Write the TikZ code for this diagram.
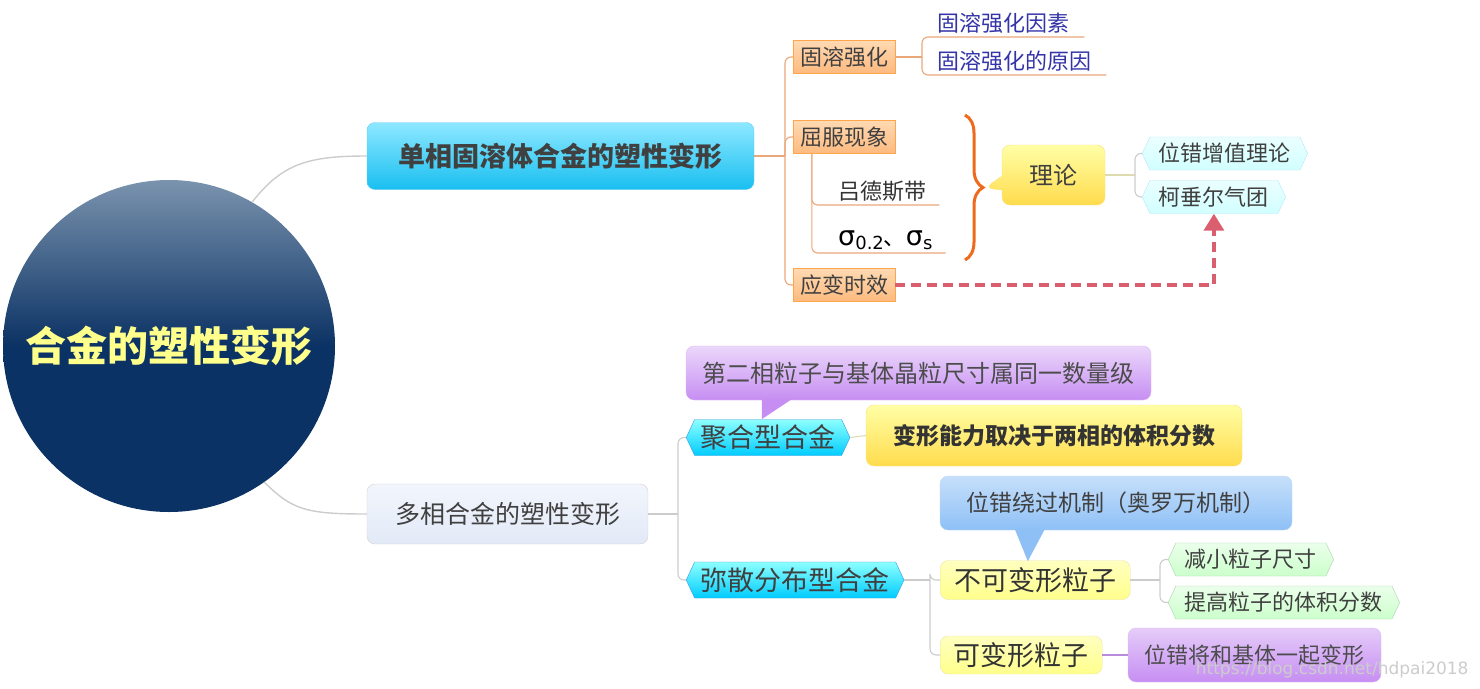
\documentclass[tikz,border=0pt]{standalone}
\usepackage{fontspec}
\setmainfont{Noto Sans CJK SC}
\newfontfamily\dejavu{DejaVu Sans}
\usepackage{tikz}
\usetikzlibrary{positioning,arrows.meta,shapes.symbols,shapes.callouts,decorations.pathreplacing,calc,shadings}
\usepackage{xcolor}
\definecolor{rootnavy}{HTML}{0B3264}
\definecolor{rootsteel}{HTML}{7A93AE}
\definecolor{titleyellow}{HTML}{FFFF8C}
\definecolor{cyantop}{HTML}{8EE8FF}
\definecolor{cyanbot}{HTML}{19BFF0}
\definecolor{orangeline}{HTML}{EAA77A}
\definecolor{orangetop}{HTML}{FFDAB2}
\definecolor{orangebot}{HTML}{FDB97F}
\definecolor{greyline}{HTML}{CCCCCC}
\definecolor{bracecol}{HTML}{F06A1E}
\definecolor{dashred}{HTML}{D95F6E}
\definecolor{ulblue}{HTML}{3434A8}
\definecolor{purpbot}{HTML}{C68EF2}
\definecolor{bluebot}{HTML}{8EC0F6}
\definecolor{multitop}{HTML}{F2F5FC}
\definecolor{multibot}{HTML}{E2EAF7}
\newcommand{\pxfont}[1]{\fontsize{#1}{#1}\selectfont}

\tikzset{
  rootline/.style={draw=greyline, line width=1.4},
  obranch/.style={draw=orangeline, line width=1.1, rounded corners=6},
  gbranch/.style={draw=greyline, line width=1.1, rounded corners=6},
  obox/.style={rectangle, draw=orange!70!white, top color=orangetop, bottom color=orangebot,
    text=black!75, font=\pxfont{22}, minimum width=102, minimum height=33, inner sep=0},
  ulabel/.style={inner xsep=15, inner ysep=3, text=ulblue, font=\pxfont{22}},
  sublabel/.style={inner xsep=13, inner ysep=3, text=black!80, font=\pxfont{22}},
  chex/.style={signal, signal to=east and west, signal pointer angle=130, draw=cyan!30, top color=cyan!8,
    bottom color=cyan!18, text=black!75, font=\pxfont{22}, minimum height=33, inner xsep=9, inner ysep=0},
  bhex/.style={signal, signal to=east and west, signal pointer angle=130, draw=cyan!70!blue!80, top color=cyan!45,
    bottom color=cyan!80!blue, text=black!75, font=\pxfont{27}, minimum height=36, inner xsep=6, inner ysep=0},
  ghex/.style={signal, signal to=east and west, signal pointer angle=130, draw=green!30!gray!50, top color=green!8,
    bottom color=green!20, text=black!75, font=\pxfont{22}, minimum height=33, inner xsep=9, inner ysep=0},
  roundbox/.style={rectangle, rounded corners=8, inner sep=0},
}

\begin{document}
\begin{tikzpicture}[x=1pt,y=-1pt]
\useasboundingbox (0,0) rectangle (1480,688);

% centre
\node[circle, minimum size=332, top color=rootsteel, bottom color=rootnavy, middle color=rootnavy,
      text=titleyellow, font=\pxfont{41}\bfseries] (root) at (169,346) {合金的塑性变形};

\node[roundbox, draw=cyan!60, top color=cyantop, bottom color=cyanbot, text=black!75,
      font=\pxfont{27}\bfseries, minimum width=387, minimum height=67] (single) at (560.5,156) {单相固溶体合金的塑性变形};
\node[roundbox, draw=gray!35, top color=multitop, bottom color=multibot, text=black!75,
      font=\pxfont{25}, minimum width=281, minimum height=60] (multi) at (507.5,514) {多相合金的塑性变形};

\draw[rootline] (root.60) .. controls +(30,-38) and +(-60,0) .. (single.west);
\draw[rootline] (root.-55) .. controls +(28,28) and +(-60,0) .. (multi.west);

% single phase branch
\coordinate (ut) at (785,156);
\node[obox] (gr) at (844,57) {固溶强化};
\node[obox] (qf) at (844,137) {屈服现象};
\node[obox] (yb) at (844,285) {应变时效};
\draw[obranch] (single.east) -- (ut);
\draw[obranch] (ut) |- (gr.west);
\draw[obranch] (ut) |- (qf.west);
\draw[obranch] (ut) |- (yb.west);

\coordinate (gt) at (922,57);
\node[ulabel, anchor=south west] (gy) at (922,37) {固溶强化因素};
\node[ulabel, anchor=south west] (gx) at (922,75) {固溶强化的原因};
\draw[obranch] (gr.east) -- (gt);
\draw[obranch] (gt) |- (gy.south east);
\draw[obranch] (gt) |- (gx.south east);

\coordinate (qt) at ($(qf.south west)+(19,0)$);
\node[sublabel, anchor=south west] (ld) at (825,205) {吕德斯带};
\node[sublabel, anchor=south west, text=black] (sg) at (825,253)
  {{\dejavu\pxfont{27}σ\raisebox{-4pt}{\pxfont{18}0.2}}、{\dejavu\pxfont{27}σ\raisebox{-4pt}{\pxfont{18}s}}};
\draw[obranch] (qt) |- (ld.south east);
\draw[obranch] (qt) |- (sg.south east);

\draw[bracecol, line width=3, decorate, decoration={brace, amplitude=18}] (965,115) -- (965,260);
\node[rectangle callout, rounded corners=8, callout absolute pointer={(985,188)}, callout pointer width=14,
      draw=yellow!60!orange!50, top color=yellow!35, bottom color=yellow!60!orange!70, text=black!75,
      font=\pxfont{24}, minimum width=103, minimum height=60, inner sep=0] (ll) at (1053.5,175) {理论};
\coordinate (lt) at (1135,175);
\node[chex, anchor=west] (wz) at (1142,153.5) {位错增值理论};
\node[chex, anchor=west] (kc) at (1142,197) {柯垂尔气团};
\draw[gbranch, draw=yellow!40!gray!50] (ll.east) -- (lt);
\draw[gbranch] (lt) |- (wz.west);
\draw[gbranch] (lt) |- (kc.west);

\draw[dashred, line width=3.4, dash pattern=on 10pt off 6pt, -{Triangle[width=20,length=17]}]
  (yb.east) -| (kc.south);

% multi phase branch
\coordinate (mt) at (678,514);
\node[bhex, anchor=west] (jh) at (686,437.5) {聚合型合金};
\node[bhex, anchor=west] (ms) at (686,580) {弥散分布型合金};
\draw[gbranch] (multi.east) -- (mt);
\draw[gbranch] (mt) |- (jh.west);
\draw[gbranch] (mt) |- (ms.west);

\node[roundbox, draw=purpbot!60, top color=purpbot!35, bottom color=purpbot, text=black!70,
      font=\pxfont{24}, minimum width=465, minimum height=54] (c1) at (918.5,373) {第二相粒子与基体晶粒尺寸属同一数量级};
\fill[purpbot] ($(c1.south west)+(76,-1)$) -- ($(c1.south west)+(106,-1)$) -- ($(c1.south west)+(76,19)$) -- cycle;

\node[roundbox, draw=yellow!60!orange!50, top color=yellow!35, bottom color=yellow!60!orange!70,
      text=black!80, font=\pxfont{23}\bfseries, minimum width=376, minimum height=61] (bx) at (1054,435.5) {变形能力取决于两相的体积分数};
\draw[gbranch, draw=yellow!40!gray!50] (jh.east) -- (bx.west);

\coordinate (dt) at (930,580);
\node[roundbox, anchor=west, draw=yellow!60!gray!50, top color=yellow!25, bottom color=yellow!45,
      text=black!80, font=\pxfont{27}, minimum width=190, minimum height=39] (bk) at (940,580) {不可变形粒子};
\node[roundbox, anchor=west, draw=yellow!60!gray!50, top color=yellow!25, bottom color=yellow!45,
      text=black!80, font=\pxfont{27}, minimum width=162, minimum height=38] (kb) at (940,655) {可变形粒子};
\draw[gbranch] (ms.east) -- (dt);
\draw[gbranch] (dt) |- (bk.west);
\draw[gbranch] (dt) |- (kb.west);

\node[roundbox, draw=bluebot!60, top color=bluebot!50, bottom color=bluebot, text=black!75,
      font=\pxfont{23}, minimum width=352, minimum height=54] (c2) at (1116,503) {位错绕过机制（奥罗万机制）};
\fill[bluebot] ($(c2.south west)+(75,-1)$) -- ($(c2.south west)+(105,-1)$) -- ($(c2.south west)+(88,31)$) -- cycle;

\coordinate (bt) at (1160,580);
\node[ghex, anchor=west] (jx) at (1168,559.5) {减小粒子尺寸};
\node[ghex, anchor=west] (tg) at (1168,602.5) {提高粒子的体积分数};
\draw[gbranch] (bk.east) -- (bt);
\draw[gbranch] (bt) |- (jx.west);
\draw[gbranch] (bt) |- (tg.west);

\node[roundbox, draw=purpbot!60, top color=purpbot!45, bottom color=purpbot, text=black!70,
      font=\pxfont{22}, minimum width=253, minimum height=54] (wj) at (1254.5,655) {位错将和基体一起变形};
\draw[purpbot!80!gray, line width=2] (kb.east) -- (wj.west);

\node[text=gray!40, font=\dejavu\pxfont{17}, anchor=east] (wm) at (1472,670) {https://blog.csdn.net/hdpai2018};
\end{tikzpicture}
\end{document}
